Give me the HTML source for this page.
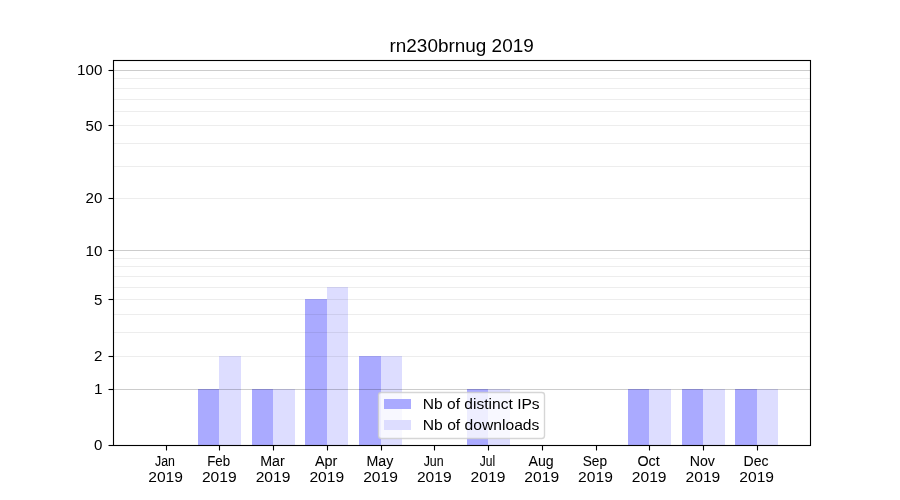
<!DOCTYPE html>
<html><head><meta charset="utf-8"><title>rn230brnug 2019</title>
<style>
html,body{margin:0;padding:0;background:#fff;}
body{width:900px;height:500px;overflow:hidden;}
svg{display:block;will-change:transform;}
text{font-family:"Liberation Sans",sans-serif;fill:#000;stroke:#000;stroke-width:0.0;}
.tt{font-size:17.5px;stroke-width:0.0;}
.ty{font-size:14.1px;stroke-width:0.0;}
.tx{font-size:14.0px;stroke-width:0.05;}
.tr{font-size:14.6px;stroke-width:0.0;}
.tl{font-size:15.4px;stroke-width:0.0;}
.bar{shape-rendering:crispEdges;}
</style></head><body>
<svg width="900" height="500" viewBox="0 0 900 500">
<rect x="0" y="0" width="900" height="500" fill="#ffffff"/>
<g class="bar">
<rect x="198" y="389" width="21" height="56" fill="#aaaaff"/>
<rect x="219" y="356" width="22" height="89" fill="#ddddff"/>
<rect x="252" y="389" width="21" height="56" fill="#aaaaff"/>
<rect x="273" y="389" width="22" height="56" fill="#ddddff"/>
<rect x="305" y="299" width="22" height="146" fill="#aaaaff"/>
<rect x="327" y="287" width="21" height="158" fill="#ddddff"/>
<rect x="359" y="356" width="22" height="89" fill="#aaaaff"/>
<rect x="381" y="356" width="21" height="89" fill="#ddddff"/>
<rect x="467" y="389" width="21" height="56" fill="#aaaaff"/>
<rect x="488" y="389" width="22" height="56" fill="#ddddff"/>
<rect x="628" y="389" width="21" height="56" fill="#aaaaff"/>
<rect x="649" y="389" width="22" height="56" fill="#ddddff"/>
<rect x="682" y="389" width="21" height="56" fill="#aaaaff"/>
<rect x="703" y="389" width="22" height="56" fill="#ddddff"/>
<rect x="735" y="389" width="22" height="56" fill="#aaaaff"/>
<rect x="757" y="389" width="21" height="56" fill="#ddddff"/>
</g>
<g fill="none" stroke="#000" stroke-width="1.11">
<line x1="113" x2="810.5" y1="356.5" y2="356.5" stroke-opacity="0.07"/>
<line x1="113" x2="810.5" y1="332.5" y2="332.5" stroke-opacity="0.07"/>
<line x1="113" x2="810.5" y1="314.5" y2="314.5" stroke-opacity="0.07"/>
<line x1="113" x2="810.5" y1="299.5" y2="299.5" stroke-opacity="0.07"/>
<line x1="113" x2="810.5" y1="287.5" y2="287.5" stroke-opacity="0.07"/>
<line x1="113" x2="810.5" y1="276.5" y2="276.5" stroke-opacity="0.07"/>
<line x1="113" x2="810.5" y1="266.5" y2="266.5" stroke-opacity="0.07"/>
<line x1="113" x2="810.5" y1="258.5" y2="258.5" stroke-opacity="0.07"/>
<line x1="113" x2="810.5" y1="198.5" y2="198.5" stroke-opacity="0.07"/>
<line x1="113" x2="810.5" y1="166.5" y2="166.5" stroke-opacity="0.07"/>
<line x1="113" x2="810.5" y1="143.5" y2="143.5" stroke-opacity="0.07"/>
<line x1="113" x2="810.5" y1="125.5" y2="125.5" stroke-opacity="0.07"/>
<line x1="113" x2="810.5" y1="111.5" y2="111.5" stroke-opacity="0.07"/>
<line x1="113" x2="810.5" y1="99.5" y2="99.5" stroke-opacity="0.07"/>
<line x1="113" x2="810.5" y1="88.5" y2="88.5" stroke-opacity="0.07"/>
<line x1="113" x2="810.5" y1="78.5" y2="78.5" stroke-opacity="0.07"/>
<line x1="113" x2="810.5" y1="389.5" y2="389.5" stroke-opacity="0.2"/>
<line x1="113" x2="810.5" y1="250.5" y2="250.5" stroke-opacity="0.2"/>
<line x1="113" x2="810.5" y1="70.5" y2="70.5" stroke-opacity="0.2"/>
</g>
<rect x="378.5" y="392.5" width="166" height="46" rx="2.8" ry="2.8" fill="#fff" fill-opacity="0.8" stroke="#ccc" stroke-opacity="0.8" stroke-width="1.39"/>
<rect class="bar" x="384" y="399" width="27" height="10" fill="#aaaaff"/>
<rect class="bar" x="384" y="420" width="27" height="10" fill="#ddddff"/>
<text class="tl" x="422.82" y="409.00" text-anchor="start" textLength="116.83" lengthAdjust="spacingAndGlyphs">Nb of distinct IPs</text>
<text class="tl" x="422.82" y="430.00" text-anchor="start" textLength="116.58" lengthAdjust="spacingAndGlyphs">Nb of downloads</text>
<g fill="none" stroke="#000" stroke-width="1.11">
<line x1="166.5" x2="166.5" y1="445" y2="450.5"/>
<line x1="219.5" x2="219.5" y1="445" y2="450.5"/>
<line x1="273.5" x2="273.5" y1="445" y2="450.5"/>
<line x1="327.5" x2="327.5" y1="445" y2="450.5"/>
<line x1="381.5" x2="381.5" y1="445" y2="450.5"/>
<line x1="434.5" x2="434.5" y1="445" y2="450.5"/>
<line x1="488.5" x2="488.5" y1="445" y2="450.5"/>
<line x1="542.5" x2="542.5" y1="445" y2="450.5"/>
<line x1="596.5" x2="596.5" y1="445" y2="450.5"/>
<line x1="649.5" x2="649.5" y1="445" y2="450.5"/>
<line x1="703.5" x2="703.5" y1="445" y2="450.5"/>
<line x1="757.5" x2="757.5" y1="445" y2="450.5"/>
<line x1="108.5" x2="113" y1="445.5" y2="445.5"/>
<line x1="108.5" x2="113" y1="389.5" y2="389.5"/>
<line x1="108.5" x2="113" y1="356.5" y2="356.5"/>
<line x1="108.5" x2="113" y1="299.5" y2="299.5"/>
<line x1="108.5" x2="113" y1="250.5" y2="250.5"/>
<line x1="108.5" x2="113" y1="198.5" y2="198.5"/>
<line x1="108.5" x2="113" y1="125.5" y2="125.5"/>
<line x1="108.5" x2="113" y1="70.5" y2="70.5"/>
<rect x="113.5" y="60.5" width="697" height="385"/>
</g>
<text class="tx" x="164.95" y="466.00" text-anchor="middle" textLength="19.88" lengthAdjust="spacingAndGlyphs">Jan</text>
<text class="tr" x="165.57" y="482.00" text-anchor="middle" textLength="34.72" lengthAdjust="spacingAndGlyphs">2019</text>
<text class="tx" x="218.69" y="466.00" text-anchor="middle" textLength="22.90" lengthAdjust="spacingAndGlyphs">Feb</text>
<text class="tr" x="219.31" y="482.00" text-anchor="middle" textLength="34.72" lengthAdjust="spacingAndGlyphs">2019</text>
<text class="tx" x="272.42" y="466.00" text-anchor="middle" textLength="24.53" lengthAdjust="spacingAndGlyphs">Mar</text>
<text class="tr" x="273.05" y="482.00" text-anchor="middle" textLength="34.72" lengthAdjust="spacingAndGlyphs">2019</text>
<text class="tx" x="326.16" y="466.00" text-anchor="middle" textLength="22.44" lengthAdjust="spacingAndGlyphs">Apr</text>
<text class="tr" x="326.78" y="482.00" text-anchor="middle" textLength="34.72" lengthAdjust="spacingAndGlyphs">2019</text>
<text class="tx" x="379.90" y="466.00" text-anchor="middle" textLength="26.85" lengthAdjust="spacingAndGlyphs">May</text>
<text class="tr" x="380.52" y="482.00" text-anchor="middle" textLength="34.72" lengthAdjust="spacingAndGlyphs">2019</text>
<text class="tx" x="433.63" y="466.00" text-anchor="middle" textLength="20.00" lengthAdjust="spacingAndGlyphs">Jun</text>
<text class="tr" x="434.26" y="482.00" text-anchor="middle" textLength="34.72" lengthAdjust="spacingAndGlyphs">2019</text>
<text class="tx" x="487.37" y="466.00" text-anchor="middle" textLength="15.46" lengthAdjust="spacingAndGlyphs">Jul</text>
<text class="tr" x="487.99" y="482.00" text-anchor="middle" textLength="34.72" lengthAdjust="spacingAndGlyphs">2019</text>
<text class="tx" x="541.10" y="466.00" text-anchor="middle" textLength="25.23" lengthAdjust="spacingAndGlyphs">Aug</text>
<text class="tr" x="541.73" y="482.00" text-anchor="middle" textLength="34.72" lengthAdjust="spacingAndGlyphs">2019</text>
<text class="tx" x="594.84" y="466.00" text-anchor="middle" textLength="24.30" lengthAdjust="spacingAndGlyphs">Sep</text>
<text class="tr" x="595.47" y="482.00" text-anchor="middle" textLength="34.72" lengthAdjust="spacingAndGlyphs">2019</text>
<text class="tx" x="648.58" y="466.00" text-anchor="middle" textLength="22.32" lengthAdjust="spacingAndGlyphs">Oct</text>
<text class="tr" x="649.20" y="482.00" text-anchor="middle" textLength="34.72" lengthAdjust="spacingAndGlyphs">2019</text>
<text class="tx" x="702.31" y="466.00" text-anchor="middle" textLength="25.23" lengthAdjust="spacingAndGlyphs">Nov</text>
<text class="tr" x="702.94" y="482.00" text-anchor="middle" textLength="34.72" lengthAdjust="spacingAndGlyphs">2019</text>
<text class="tx" x="756.05" y="466.00" text-anchor="middle" textLength="24.99" lengthAdjust="spacingAndGlyphs">Dec</text>
<text class="tr" x="756.68" y="482.00" text-anchor="middle" textLength="34.72" lengthAdjust="spacingAndGlyphs">2019</text>
<text class="ty" x="102.42" y="450.40" text-anchor="end" textLength="8.40" lengthAdjust="spacingAndGlyphs">0</text>
<text class="ty" x="102.42" y="394.06" text-anchor="end" textLength="8.52" lengthAdjust="spacingAndGlyphs">1</text>
<text class="ty" x="102.42" y="361.11" text-anchor="end" textLength="8.40" lengthAdjust="spacingAndGlyphs">2</text>
<text class="ty" x="102.42" y="304.77" text-anchor="end" textLength="8.40" lengthAdjust="spacingAndGlyphs">5</text>
<text class="ty" x="102.42" y="255.51" text-anchor="end" textLength="16.92" lengthAdjust="spacingAndGlyphs">10</text>
<text class="ty" x="102.42" y="202.96" text-anchor="end" textLength="16.80" lengthAdjust="spacingAndGlyphs">20</text>
<text class="ty" x="102.42" y="130.84" text-anchor="end" textLength="16.80" lengthAdjust="spacingAndGlyphs">50</text>
<text class="ty" x="102.42" y="75.31" text-anchor="end" textLength="25.32" lengthAdjust="spacingAndGlyphs">100</text>
<text class="tt" x="461.62" y="52.00" text-anchor="middle" textLength="144.28" lengthAdjust="spacingAndGlyphs">rn230brnug 2019</text>
</svg>
</body></html>
